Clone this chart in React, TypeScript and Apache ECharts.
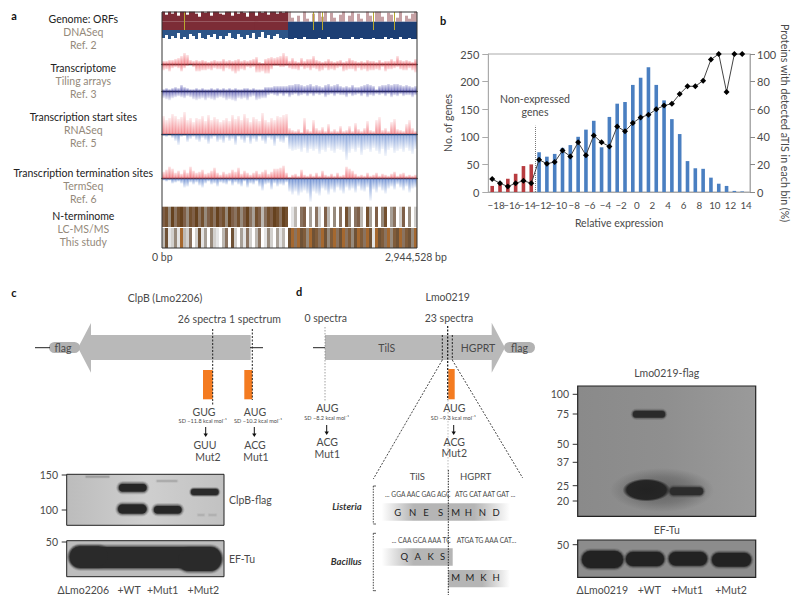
import React, { useEffect, useRef } from "react";
import * as echarts from "echarts";

// ---------- panel b data ----------
const binCentres = [-18.5,-17.5,-16.5,-15.5,-14.5,-13.5,-12.5,-11.5,-10.5,-9.5,-8.5,-7.5,-6.5,-5.5,-4.5,-3.5,-2.5,-1.5,-0.5,0.5,1.5,2.5,3.5,4.5,5.5,6.5,7.5,8.5,9.5,10.5,11.5,12.5,13.5];
const geneCounts = [11,17,24,33,47,50,72,64,69,80,85,100,113,129,81,136,160,163,194,207,226,194,166,132,105,56,43,42,26,15,11,2,1];
const detectedPct = [9.4,6.3,4,6.3,8.2,6.3,23.4,20.5,21.7,30,25.8,36,26.7,41,36,33,47.5,44,50,54,56,60,62.6,64,71,76.6,76.6,80.7,96,100,72.5,100,100];
const xTicks = [-18,-16,-14,-12,-10,-8,-6,-4,-2,0,2,4,6,8,10,12,14];

// ---------- panel a data (one value per genome bin) ----------
const orfTop = [10,7,10,8,10,6,10,10,7,10, 10,8,5,10,9,10,6,10,10,8, 7,10,10,6,10,8,10,9,5,10, 10,6,10,9,10,7,10,10,8,10, 9,10,10,4,0,6,0,10,3,0, 8,0,10,5,10,0,9,4,0,7, 10,0,6,10,0,8,3,0,10,6, 0,10,10,5,0,9,7,0,4,10, 0,6,3,8,10];
const orfMiddle = [1,1,1,1,1,1,1,1,1,1, 1,1,1,1,1,1,1,1,1,1, 1,1,1,1,1,1,1,1,1,1, 1,1,1,1,1,1,1,1,1,1, 1,1,1,1,1,1,1,1,1,1, 1,1,1,1,1,1,1,1,1,1, 1,1,1,1,1,1,1,1,1,1, 1,1,1,1,1,1,1,1,1,1, 1,1,1,1,1];
const orfBottom = [8,5,9,6,8,3,9,7,9,4, 6,9,3,8,9,5,7,4,9,6, 9,6,3,8,9,4,7,9,5,8, 3,9,7,2,8,5,9,6,4,8, 9,8,9,9,8,9,9,7,9,9, 9,9,8,9,9,7,9,9,9,8, 9,9,9,7,9,9,8,9,9,9, 8,9,9,9,7,9,8,9,9,7, 9,9,8,9,9];
const tilingRedUp = [3,3,4,4,5,6,8,11,9,4, 3,4,3,4,3,2,3,4,3,3, 5,3,4,3,4,5,3,4,3,4, 5,7,2,1,5,6,7,6,7,8, 11,8,3,6,3,2,6,3,5,5, 8,4,3,2,3,5,3,2,3,4, 2,3,6,4,3,2,3,2,4,3, 3,2,4,2,3,3,5,3,8,4, 3,4,3,2,5];
const tilingRedDown = [6,5,7,4,3,4,7,4,2,1, 3,7,7,6,6,5,6,4,5,5, 7,4,5,7,9,7,5,6,3,4, 3,8,8,7,9,9,5,2,2,3, 3,2,4,5,5,6,3,5,4,6, 4,5,7,6,4,6,5,6,4,3, 7,6,5,5,7,4,6,5,7,6, 6,5,6,3,7,5,5,4,3,5, 6,6,4,6,8];
const tilingBlueUp = [2,3,2,3,4,3,6,4,3,2, 2,3,2,3,2,2,3,2,3,2, 3,2,3,2,3,2,2,3,3,2, 3,2,2,2,4,4,4,5,5,5, 5,5,6,6,7,7,6,5,6,7, 5,6,5,4,6,7,5,6,7,5, 4,5,4,6,4,4,5,6,7,6, 5,2,5,6,6,7,6,7,7,6, 5,6,5,4,5];
const tilingBlueDown = [7,8,9,7,6,5,6,7,5,6, 8,9,8,7,9,7,8,9,7,6, 7,9,8,9,10,7,8,7,9,6, 5,9,8,7,7,4,3,4,5,3, 5,3,6,4,3,5,4,3,5,3, 5,3,4,3,6,4,3,5,3,4, 4,6,3,5,4,3,5,3,6,4, 5,3,4,3,5,3,6,4,5,3, 5,4,4,6,4];
const tssRedUp = [18,14,16,20,18,15,17,22,14,16, 12,16,15,18,13,19,14,17,15,12, 14,16,13,19,15,18,14,20,16,12, 17,15,13,21,14,12,16,14,18,17, 19,20,6,4,3,5,2,16,5,3, 14,6,4,7,3,10,3,5,3,8, 3,4,8,3,11,5,3,6,13,4, 3,14,17,4,6,3,12,15,5,4, 3,10,14,6,3];
const tssBlueDown = [2,3,1,4,7,11,3,2,8,5, 3,6,8,4,6,10,5,3,8,6, 9,4,7,5,11,3,6,9,4,10, 5,8,3,7,10,4,6,12,5,8, 9,4,15,17,16,15,18,14,19,15, 17,15,20,16,18,14,17,19,15,16, 18,26,19,15,18,14,21,16,15,18, 14,17,20,15,22,16,14,19,17,15, 18,14,17,20,15];
const termRedUp = [7,9,12,10,6,8,5,9,6,12, 8,6,7,9,5,6,8,11,6,4, 7,5,6,9,7,11,5,8,6,4, 6,8,5,7,9,5,7,10,10,11, 13,6,2,4,5,3,9,4,3,5, 3,6,3,8,4,3,5,3,6,3, 4,12,10,8,5,3,4,3,6,3, 4,6,3,5,4,3,5,7,3,5, 6,3,4,3,4];
const termBlueDown = [2,3,2,5,4,3,5,9,8,4, 6,4,7,9,5,3,6,5,8,4, 5,6,3,7,4,6,8,3,9,5, 6,3,8,12,6,5,11,5,8,6, 7,4,13,16,13,17,14,12,15,23, 13,15,17,10,12,16,11,14,9,12, 15,9,12,10,14,8,12,13,9,22, 11,14,9,12,15,10,8,11,6,9, 12,8,14,10,9];
const nTermTop = [7,8,5,9,6,8,9,7,5,8, 7,9,6,8,5,7,8,6,9,7, 8,5,9,7,6,8,5,7,9,6, 4,8,7,3,6,8,7,9,8,6, 9,8,0,1,3,0,6,7,0,4, 0,6,2,0,7,3,0,5,0,6, 0,8,5,0,6,7,3,0,8,4, 0,7,0,5,8,0,4,6,0,2, 7,0,5,0,2];
const nTermBottom = [3,7,1,2,5,1,8,3,2,6, 0,2,7,1,4,0,5,2,1,0, 3,6,0,7,2,0,4,1,6,2, 0,3,6,0,1,5,2,0,4,1, 3,0,7,8,6,8,7,9,5,8, 7,9,6,8,7,5,9,8,6,7, 8,6,9,5,7,8,9,6,8,7, 1,8,7,9,6,8,5,9,7,8, 6,9,7,5,8];
const accentBins = [7,50,53,70,77];
const strandBreak = 42;
const binLabels = orfTop.map((_, i) => String(i));

// ---------- labels ----------
const trackLabels: [string, string, string, number][] = [
  ["Genome: ORFs", "DNASeq", "Ref. 2", 19],
  ["Transcriptome", "Tiling arrays", "Ref. 3", 68],
  ["Transcription start sites", "RNASeq", "Ref. 5", 117.3],
  ["Transcription termination sites", "TermSeq", "Ref. 6", 173.3],
  ["N-terminome", "LC-MS/MS", "This study", 216],
];
const blotC1Marks: [string, number][] = [["150", 475], ["100", 510]];
const blotC2Marks: [string, number][] = [["50", 542]];
const blotD1Marks: [string, number][] = [["100", 394.3], ["75", 414], ["50", 444.3], ["37", 462.3], ["25", 485.7], ["20", 501]];
const blotD2Marks: [string, number][] = [["50", 544.7]];
const lanesC: [string, number][] = [["ΔLmo2206", 83.3], ["+WT", 129], ["+Mut1", 162.7], ["+Mut2", 203.3]];
const lanesD: [string, number][] = [["ΔLmo0219", 602.3], ["+WT", 649.3], ["+Mut1", 687.3], ["+Mut2", 731]];
const listeriaTop: [string, number][] = [["G",173],["N",218],["E",258],["S",302],["M",347],["H",385],["N",427],["D",468]];
const bacillusTop: [string, number][] = [["Q",193],["A",233],["K",272],["S",308]];
const bacillusBottom: [string, number][] = [["M",347],["M",390],["K",430],["H",468]];

const FONT = "Lato";
const INK = "#4a4a4a";
const TAN = "#94897a";
const stripePalette = ["#ffffff","#e4e4e4","#d2d0cd","#bdb8b2","#a8a097","#978a7c","#8a7360","#7f6048","#73502f","#66421f"];

function fade(rgb: string, baseAtBottom: boolean, a0: number, a1: number) {
  const stops = baseAtBottom
    ? [{ offset: 0, color: `rgba(${rgb},${a1})` }, { offset: 1, color: `rgba(${rgb},${a0})` }]
    : [{ offset: 0, color: `rgba(${rgb},${a0})` }, { offset: 1, color: `rgba(${rgb},${a1})` }];
  return new echarts.graphic.LinearGradient(0, 0, 0, 1, stops);
}

// graphic helpers
const T = (text: string, x: number, y: number, o: any = {}) => ({
  type: "text", x, y, z: 20, rotation: o.rotation || 0,
  style: { text, fill: o.fill || INK, fontSize: o.size || 10.5, fontFamily: FONT, fontWeight: o.weight || "normal", fontStyle: o.italic ? "italic" : "normal", align: o.align || "center", verticalAlign: "middle" },
});
const R = (x1: number, y1: number, x2: number, y2: number, fill: any, o: any = {}) => ({
  type: "rect", z: o.z ?? 5, shape: { x: x1, y: y1, width: x2 - x1, height: y2 - y1, r: o.r || 0 },
  style: { fill, stroke: o.stroke || null, lineWidth: o.lw || 0, opacity: o.opacity ?? 1 },
});
const L = (x1: number, y1: number, x2: number, y2: number, stroke = "#222", lw = 1, dash?: number[]) => ({
  type: "line", z: 15, shape: { x1, y1, x2, y2 }, style: { stroke, lineWidth: lw, lineDash: dash || undefined },
});
const POLY = (points: number[][], fill: string) => ({ type: "polygon", z: 4, shape: { points }, style: { fill } });
// soft-edged blot band: nested translucent rounded rects around an opaque core
const softLayers: [number, number][] = [[3, 0.1], [2.2, 0.16], [1.4, 0.28], [0.6, 0.5], [0, 1]];
const Band = (x1: number, y1: number, x2: number, y2: number, fill = "#262626", grow = 1) =>
  softLayers.map(([d, a]) => {
    const e = d * grow;
    return R(x1 - e, y1 - e, x2 + e, y2 + e, fill, { r: (y2 - y1) / 2 + e, opacity: a, z: d === 0 ? 7 : 6 });
  });
const DownArrow = (x: number, y1: number, y2: number) => [
  L(x, y1, x, y2 - 2, "#111", 1),
  POLY([[x - 2.2, y2 - 3.5], [x + 2.2, y2 - 3.5], [x, y2]], "#111"),
];
const hGrad = (stops: [number, string][]) => ({ type: "linear", x: 0, y: 0, x2: 1, y2: 0, colorStops: stops.map(([offset, color]) => ({ offset, color })) });

function buildGraphics() {
  const g: any[] = [];
  // panel letters
  g.push(T("a", 14, 15, { weight: "bold", size: 11, fill: "#111" }), T("b", 443, 20, { weight: "bold", size: 11, fill: "#111" }), T("c", 14, 292, { weight: "bold", size: 11, fill: "#111" }), T("d", 299, 291, { weight: "bold", size: 11, fill: "#111" }));
  // panel a labels
  trackLabels.forEach(([a, b, c, y]) => {
    g.push(T(a, 83.3, y, { fill: "#222" }), T(b, 83.3, y + 13, { fill: TAN }), T(c, 83.3, y + 26, { fill: TAN }));
  });
  g.push(T("0 bp", 162.3, 256.7), T("2,944,528 bp", 385, 256.7, { align: "left" }));
  g.push(R(162, 12, 417, 248, "none", { stroke: "#333", lw: 1, z: 18 }));
  // panel b annotation
  g.push(T("Non-expressed", 535, 98.5), T("genes", 535, 111.5));

  // ---- panel c diagram
  g.push(T("ClpB (Lmo2206)", 165, 298));
  g.push(L(35, 347.7, 50, 347.7), L(250, 347.7, 263, 347.7));
  g.push(POLY([[78, 347.7], [91, 323], [91, 335], [250.7, 335], [250.7, 360], [91, 360], [91, 372.7]], "#b9b9b9"));
  g.push(R(49, 342, 80, 353, "#b2b2b2", { r: 5.5 }), T("flag", 63, 347.7));
  g.push(T("26 spectra", 202, 319), T("1 spectrum", 255, 319));
  g.push(R(203, 370, 212.7, 399.3, "#f47b20"), R(244.3, 370, 252.3, 399.3, "#f47b20"));
  g.push(L(212.7, 329, 212.7, 405, "#222", 1, [2, 1.5]), L(252.3, 329, 252.3, 400, "#222", 1, [2, 1.5]));
  g.push(T("GUG", 204, 411.7), T("AUG", 255, 411.7));
  g.push(T("SD −11.8 kcal mol⁻¹", 202.7, 420.7, { size: 5.6 }), T("SD −10.2 kcal mol⁻¹", 258, 420.7, { size: 5.6 }));
  g.push(...DownArrow(205.7, 427, 437), ...DownArrow(254.3, 427, 437));
  g.push(T("GUU", 205, 445), T("Mut2", 208, 456.7), T("ACG", 255, 445), T("Mut1", 256, 456.7));

  // blot c1
  g.push(R(66.7, 474.3, 224, 525.3, hGrad([[0, "#bcbcbc"], [0.5, "#cfcfcf"], [1, "#c2c2c2"]]), { z: 3 }));
  g.push(...Band(86, 476.2, 109, 477.2, "#9a9a9a", 0.5), ...Band(157, 480.5, 177, 481.5, "#a6a6a6", 0.5), ...Band(198, 514.5, 204, 515.5, "#aeaeae", 0.5), ...Band(209, 514.5, 216, 515.5, "#aeaeae", 0.5));
  g.push(...Band(119, 484, 146.5, 491.5), ...Band(118, 504.5, 146.5, 513.5), ...Band(154, 506, 181.5, 513.5), ...Band(191, 489, 218.5, 495, "#2a2a2a", 0.7));
  g.push(R(66.7, 474.3, 224, 525.3, "none", { stroke: "#222", lw: 1, z: 18 }));
  // blot c2
  g.push(R(66.7, 540.7, 224, 576.7, "#bdbdbd", { z: 3 }));
  g.push(...Band(70, 547, 221, 568, "#2a2a2a", 1), ...Band(70, 546.5, 108, 566, "#2a2a2a", 1), ...Band(178, 549, 221, 571, "#2a2a2a", 1));
  g.push(R(66.7, 540.7, 224, 576.7, "none", { stroke: "#222", lw: 1, z: 18 }));
  blotC1Marks.concat(blotC2Marks).forEach(([s, y]) => g.push(T(s, 58, y, { align: "right" }), L(61.7, y, 66.7, y, "#333", 1)));
  g.push(T("ClpB-flag", 229, 500, { align: "left" }), T("EF-Tu", 229, 559.3, { align: "left" }));
  lanesC.forEach(([s, x]) => g.push(T(s, x, 590)));

  // ---- panel d diagram
  g.push(T("Lmo0219", 447.7, 297.3), T("0 spectra", 325.7, 318.3), T("23 spectra", 449, 318.3));
  g.push(L(313, 347.7, 325, 347.7));
  g.push(POLY([[325, 335], [491.7, 335], [491.7, 322.7], [505, 347.7], [491.7, 372.7], [491.7, 360], [325, 360]], "#b9b9b9"));
  g.push(R(504, 342, 535, 353, "#b2b2b2", { r: 5.5 }), T("flag", 519.5, 347.7));
  g.push(T("TilS", 386.7, 347.7), T("HGPRT", 478, 347.7));
  g.push(L(325, 327, 325, 402, "#888", 0.8, [1.5, 1.5]));
  g.push(L(442.3, 335, 442.3, 360, "#222", 1, [2, 1.5]), L(452.3, 335, 452.3, 360, "#222", 1, [2, 1.5]), L(447.7, 326, 447.7, 400, "#111", 1.2, [2, 1.5]));
  g.push(L(448, 400, 448, 470, "#aaa", 0.8, [1.5, 1.5]));
  g.push(R(448.3, 369, 454.7, 399.3, "#f47b20"));
  g.push(T("AUG", 327.3, 408.3), T("SD −8.2 kcal mol⁻¹", 326.7, 417, { size: 5.6 }), T("ACG", 327.3, 442.3), T("Mut1", 327.3, 454));
  g.push(T("AUG", 454.3, 408.3), T("SD −9.3 kcal mol⁻¹", 453.3, 417, { size: 5.6 }), T("ACG", 454.3, 442.3), T("Mut2", 454.3, 453));
  g.push(...DownArrow(326.7, 425, 435), ...DownArrow(453.7, 425, 435));
  g.push(L(442.3, 360, 373.3, 479, "#333", 0.9, [2, 1.5]), L(452.3, 360, 522.7, 478, "#333", 0.9, [2, 1.5]));
  g.push(T("TilS", 417.3, 476, { size: 9.5 }), T("HGPRT", 475.7, 476, { size: 9.5 }));
  [[486, 524], [533.3, 590.7]].forEach(([y1, y2]) => g.push(L(373.3, y1, 373.3, y2, "#333", 0.9, [1.5, 1.2]), L(373.3, y1, 376, y1, "#333", 0.8), L(373.3, y2, 376, y2, "#333", 0.8)));
  g.push(T("Listeria", 361.7, 506.7, { italic: true, weight: "bold", size: 9.5, align: "right", fill: "#333" }), T("Bacillus", 361.7, 561.7, { italic: true, weight: "bold", size: 9.5, align: "right", fill: "#333" }));
  g.push(T("... GGA AAC GAG AGC", 385, 494.3, { size: 6.6, align: "left" }), T("ATG CAT AAT GAT ...", 455, 494.3, { size: 6.6, align: "left" }));
  g.push(T("... CAA GCA AAA TC", 391.7, 540.3, { size: 6.6, align: "left" }), T("ATGA TG AAA CAT...", 456.7, 540.3, { size: 6.6, align: "left" }));
  g.push(R(381.7, 503.3, 510, 520.7, hGrad([[0, "rgba(178,178,178,0)"], [0.25, "#b5b5b5"], [0.72, "#b5b5b5"], [1, "rgba(178,178,178,0)"]])));
  g.push(R(381.7, 548.3, 452.7, 565.7, hGrad([[0, "rgba(178,178,178,0)"], [0.45, "#b5b5b5"], [1, "#b5b5b5"]])));
  g.push(R(448.3, 570, 510, 587.3, hGrad([[0, "#b5b5b5"], [0.55, "#b5b5b5"], [1, "rgba(178,178,178,0)"]])));
  listeriaTop.forEach(([s, x]) => g.push(T(s, 340 + x / 3, 512, { size: 9.5, fill: "#222" })));
  bacillusTop.forEach(([s, x]) => g.push(T(s, 340 + x / 3, 556.7, { size: 9.5, fill: "#222" })));
  bacillusBottom.forEach(([s, x]) => g.push(T(s, 340 + x / 3, 577.7, { size: 9.5, fill: "#222" })));
  g.push(L(448.3, 470, 448.3, 595, "#222", 1, [1.5, 1.2]));

  // blot d1
  g.push(T("Lmo0219-flag", 666.7, 373.3));
  g.push(R(577.7, 386, 755.7, 516.3, hGrad([[0, "#8a8a8a"], [0.5, "#8f8f8f"], [1, "#9a9a9a"]]), { z: 3 }));
  g.push({ type: "ellipse", z: 5, shape: { cx: 662, cy: 490, rx: 52, ry: 22 }, style: { fill: { type: "radial", x: 0.5, y: 0.5, r: 0.5, colorStops: [{ offset: 0, color: "rgba(60,60,60,0.55)" }, { offset: 0.6, color: "rgba(60,60,60,0.3)" }, { offset: 1, color: "rgba(60,60,60,0)" }] } } });
  g.push(...Band(633, 411, 665, 417.5, "#2a2a2a", 0.8));
  g.push({ type: "ellipse", z: 6, shape: { cx: 646.5, cy: 490, rx: 24, ry: 11.5 }, style: { fill: { type: "radial", x: 0.5, y: 0.5, r: 0.5, colorStops: [{ offset: 0, color: "#222" }, { offset: 0.82, color: "#252525" }, { offset: 1, color: "rgba(40,40,40,0)" }] } } });
  g.push(...Band(670, 487.5, 703, 495, "#2c2c2c", 0.9));
  g.push(R(577.7, 386, 755.7, 516.3, "none", { stroke: "#222", lw: 1.2, z: 18 }));
  // blot d2
  g.push(T("EF-Tu", 666.7, 530));
  g.push(R(577.7, 540, 755.7, 577.3, "#8c8c8c", { z: 3 }));
  [[582, 623, 551, 568], [626, 664, 552, 566], [669, 707, 552, 565.5], [712, 751, 553, 566.5]].forEach(([x1, x2, y1, y2]) => g.push(...Band(x1, y1, x2, y2, "#222222", 0.9)));
  g.push(R(577.7, 540, 755.7, 577.3, "none", { stroke: "#222", lw: 1.2, z: 18 }));
  blotD1Marks.concat(blotD2Marks).forEach(([s, y]) => g.push(T(s, 569, y, { align: "right" }), L(572.7, y, 577.7, y, "#333", 1)));
  lanesD.forEach(([s, x]) => g.push(T(s, x, 590)));
  return g;
}

type Track = { top: number; height: number; max: number; values: number[]; down?: boolean; baseline?: boolean; width?: number; color: (v: number, i: number) => any };

function trackList(): Track[] {
  const redBase = "236,70,80", blueIndigo = "52,52,160", blueTss = "48,96,190";
  return [
    { top: 11.7, height: 10, max: 10, values: orfTop, width: 3.05, color: (_v, i) => i < strandBreak ? "#7c2c36" : "#c6a1a4" },
    { top: 21.7, height: 8.3, max: 1, values: orfMiddle, width: 3.05, color: (_v, i) => i < strandBreak ? "#7c2c36" : "#1d3f74" },
    { top: 30, height: 9, max: 9, values: orfBottom, down: true, width: 3.05, color: (_v, i) => i < strandBreak ? "#2d5588" : "#1d3f74" },
    { top: 12, height: 18, max: 1, values: orfTop.map((_, i) => accentBins.includes(i) ? 1 : 0), width: 1, color: () => "#b9a92e" },
    { top: 52, height: 12, max: 12, values: tilingRedUp, baseline: true, width: 2.6, color: () => fade(redBase, true, 0.7, 0.15) },
    { top: 64, height: 9.5, max: 9, values: tilingRedDown, down: true, width: 2.6, color: () => fade(redBase, false, 0.7, 0.15) },
    { top: 83, height: 8.3, max: 8, values: tilingBlueUp, baseline: true, width: 2.6, color: () => fade(blueIndigo, true, 0.75, 0.2) },
    { top: 91.3, height: 12, max: 12, values: tilingBlueDown, down: true, width: 2.6, color: () => fade(blueIndigo, false, 0.75, 0.08) },
    { top: 111, height: 23, max: 23, values: tssRedUp, baseline: true, width: 2.6, color: () => fade(redBase, true, 0.65, 0.1) },
    { top: 134, height: 28, max: 28, values: tssBlueDown, down: true, width: 2.6, color: () => fade(blueTss, false, 0.6, 0.06) },
    { top: 164.7, height: 14, max: 14, values: termRedUp, baseline: true, width: 2.6, color: () => fade(redBase, true, 0.75, 0.15) },
    { top: 178.7, height: 24, max: 24, values: termBlueDown, down: true, width: 2.6, color: () => fade(blueTss, false, 0.7, 0.06) },
    { top: 206.7, height: 20.3, max: 1, values: nTermTop.map(() => 1), width: 3.05, color: (_v, i) => stripePalette[nTermTop[i]] },
    { top: 228, height: 20, max: 1, values: nTermBottom.map(() => 1), width: 3.05, color: (_v, i) => nTermBottom[i] > 6 ? ["#6f5236", "#a5682f", "#805c3a"][nTermBottom[i] - 7] : stripePalette[nTermBottom[i]] },
  ];
}

function buildOption() {
  const grids: any[] = [{ left: 488.3, top: 54, width: 261.7, height: 138, show: true, borderColor: "#aaa", borderWidth: 1, backgroundColor: "transparent" }];
  const axisLabelStyle = { color: INK, fontFamily: FONT, fontSize: 11 };
  const xAxes: any[] = [{
    type: "value", gridIndex: 0, min: -19, max: 14.5, position: "bottom",
    name: "Relative expression", nameLocation: "middle", nameGap: 25, nameTextStyle: { ...axisLabelStyle, fontSize: 10.5 },
    splitLine: { show: false },
    axisLine: { lineStyle: { color: "#aaa" } },
    axisTick: { show: false },
    // the blank first entry keeps the axis from dropping −16 as "overlapping" its first label
    axisLabel: { ...axisLabelStyle, fontSize: 9.8, margin: 8, hideOverlap: false, showMinLabel: true, showMaxLabel: true, customValues: [-19, ...xTicks], formatter: (v: number) => (v === -19 ? "" : String(v).replace("-", "−")) },
  }];
  const yAxes: any[] = [
    { type: "value", gridIndex: 0, min: 0, max: 250, interval: 50, position: "left", name: "No. of genes", nameLocation: "middle", nameRotate: 90, nameGap: 35, nameTextStyle: { ...axisLabelStyle, fontSize: 10.5 },
      splitLine: { show: false }, axisLine: { show: true, onZero: false, lineStyle: { color: "#aaa" } }, axisTick: { show: true, length: 6, lineStyle: { color: "#aaa" } }, axisLabel: { ...axisLabelStyle, margin: 9 } },
    { type: "value", gridIndex: 0, min: 0, max: 100, interval: 20, position: "right", name: "Proteins with detected aTIS in each bin (%)", nameLocation: "middle", nameRotate: -90, nameGap: 29, nameTextStyle: { ...axisLabelStyle, fontSize: 10.7 },
      splitLine: { show: false }, axisLine: { show: true, onZero: false, lineStyle: { color: "#aaa" } }, axisTick: { show: true, length: 5, lineStyle: { color: "#888" } }, axisLabel: { ...axisLabelStyle, margin: 7 } },
  ];
  const series: any[] = [
    {
      type: "bar", xAxisIndex: 0, yAxisIndex: 0, barWidth: 3.6, silent: true,
      data: binCentres.map((x, i) => ({ value: [x, geneCounts[i]], itemStyle: { color: x < -13 ? "#b83c40" : "#4a7fc1" } })),
      markLine: { silent: true, symbol: "none", label: { show: false }, lineStyle: { color: "#777", type: "dotted", width: 1 }, data: [[{ coord: [-13, 0] }, { coord: [-13, 120] }]] },
    },
    {
      type: "line", xAxisIndex: 0, yAxisIndex: 1, silent: true, symbol: "diamond", symbolSize: 6,
      lineStyle: { color: "#444", width: 1 }, itemStyle: { color: "#000" },
      data: binCentres.map((x, i) => [x, detectedPct[i]]),
    },
  ];
  trackList().forEach((t) => {
    const idx = grids.length;
    grids.push({ left: 162, top: t.top, width: 255, height: t.height });
    xAxes.push({ type: "category", gridIndex: idx, data: binLabels, show: !!t.baseline, axisLine: { show: true, onZero: false, lineStyle: { color: "#1c1c1c", width: 1.4 } }, axisTick: { show: false }, axisLabel: { show: false }, splitLine: { show: false } });
    yAxes.push({ type: "value", gridIndex: idx, min: 0, max: t.max, inverse: !!t.down, show: false, splitLine: { show: false } });
    series.push({
      type: "bar", xAxisIndex: idx, yAxisIndex: yAxes.length - 1, barWidth: t.width, silent: true,
      data: t.values.map((v, i) => ({ value: v, itemStyle: { color: t.color(v, i) } })),
    });
  });
  return { animation: false, tooltip: { show: false }, grid: grids, xAxis: xAxes, yAxis: yAxes, series, graphic: { elements: buildGraphics() } };
}

export default function App() {
  const ref = useRef<HTMLDivElement>(null);
  useEffect(() => {
    document.body.style.margin = "0";
    const chart = echarts.init(ref.current!, null, { renderer: "svg" });
    chart.setOption(buildOption());
    return () => chart.dispose();
  }, []);
  return <div ref={ref} style={{ width: 800, height: 606, background: "#fff" }} />;
}
